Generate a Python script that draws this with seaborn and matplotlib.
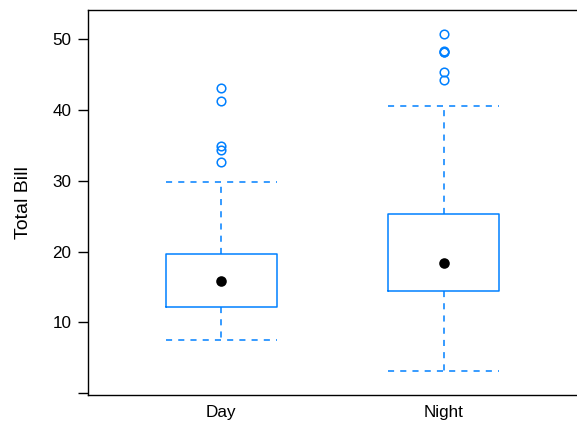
import matplotlib
matplotlib.use("Agg")
import matplotlib.pyplot as plt
import seaborn as sns
import pandas as pd

# Total bill summaries by time of day
periods = ["Day", "Night"]
q1 = [12.19, 14.38]
medians = [15.87, 18.41]
q3 = [19.61, 25.26]
whisker_low = [7.53, 3.07]
whisker_high = [29.79, 40.53]
outliers_day = [32.69, 34.31, 34.87, 41.24, 43.07]
outliers_night = [44.30, 45.40, 48.17, 48.27, 48.33, 50.78]
y_ticks = [0, 10, 20, 30, 40, 50]
y_tick_labels = ["", "10", "20", "30", "40", "50"]

sns.set_theme(style="ticks")
plt.rcParams["font.family"] = ["Liberation Sans", "DejaVu Sans"]

blue = "#0080ff"

fig = plt.figure(figsize=(5.77, 4.24), dpi=100)
ax = fig.add_axes([88 / 577, 1 - 395 / 424, 1 - 88 / 577, (395 - 10) / 424])

stats = []
for i, name in enumerate(periods):
    stats.append({
        "label": name,
        "q1": q1[i],
        "med": medians[i],
        "q3": q3[i],
        "whislo": whisker_low[i],
        "whishi": whisker_high[i],
        "fliers": [outliers_day, outliers_night][i],
    })

positions = [1, 2]
ax.bxp(
    stats,
    positions=positions,
    widths=0.5,
    showfliers=True,
    boxprops=dict(color=blue, linewidth=1.1),
    whiskerprops=dict(color=blue, linewidth=1.1, linestyle=(0, (4, 4))),
    capprops=dict(color=blue, linewidth=1.1, linestyle=(0, (4, 4))),
    capwidths=0.5,
    medianprops=dict(linewidth=0),
    flierprops=dict(marker="o", markersize=6.2, markerfacecolor="none",
                    markeredgecolor=blue, markeredgewidth=1.1),
)

med_df = pd.DataFrame({"x": positions, "median": medians})
sns.scatterplot(data=med_df, x="x", y="median", ax=ax, color="black",
                s=58, edgecolor="black", linewidth=0, zorder=5, legend=False)

ax.set_xlim(0.4, 2.6)
ax.set_ylim(-0.27, 54.15)
ax.set_xticks(positions)
ax.set_xticklabels(periods)
ax.set_yticks(y_ticks)
ax.set_yticklabels(y_tick_labels)
ax.tick_params(axis="x", length=0, pad=7, labelsize=12.3, colors="black")
ax.tick_params(axis="y", length=7, width=1, pad=5, labelsize=12.3, colors="black")
ax.set_xlabel("")
ax.set_ylabel("Total Bill", fontsize=14, labelpad=15, color="black")

for side in ["left", "bottom", "top"]:
    ax.spines[side].set_color("black")
    ax.spines[side].set_linewidth(1)
ax.spines["right"].set_visible(False)

fig.savefig("out.png", dpi=100)
